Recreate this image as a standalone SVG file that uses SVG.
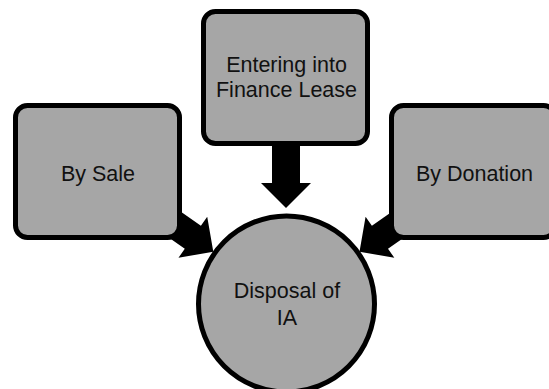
<svg xmlns="http://www.w3.org/2000/svg" width="549" height="389" viewBox="0 0 549 389">
  <defs>
    <style>
      .box { fill: #a6a6a6; stroke: #000; stroke-width: 5; }
      .lbl { font-family: "Liberation Sans", Arial, sans-serif; font-size: 21.5px; fill: #111; text-anchor: middle; }
      .arr { fill: #000; stroke: none; }
    </style>
  </defs>
  <rect width="549" height="389" fill="#fff"/>
  <g id="connectors">
    <polygon class="arr" transform="translate(286,208) rotate(90)" points="0,0 -25,-25 -25,-14 -68,-14 -68,14 -25,14 -25,25"/>
    <polygon class="arr" transform="translate(213.3,251.7) rotate(35.1)" points="0,0 -25,-25 -25,-14 -80,-14 -80,14 -25,14 -25,25"/>
    <polygon class="arr" transform="translate(359.5,251.7) rotate(144.9)" points="0,0 -25,-25 -25,-14 -80,-14 -80,14 -25,14 -25,25"/>
  </g>
  <g id="node-lease">
    <rect class="box" x="203.5" y="11.5" width="164" height="132" rx="12"/>
    <text class="lbl" x="286.5" y="72">Entering into</text>
    <text class="lbl" x="286.5" y="97">Finance Lease</text>
  </g>
  <g id="node-sale">
    <rect class="box" x="15.5" y="105.5" width="164" height="132" rx="12"/>
    <text class="lbl" x="98" y="181">By Sale</text>
  </g>
  <g id="node-donation">
    <rect class="box" x="391.5" y="105.5" width="164" height="132" rx="12"/>
    <text class="lbl" x="474.5" y="181">By Donation</text>
  </g>
  <g id="node-disposal">
    <circle class="box" cx="286.5" cy="304" r="88"/>
    <text class="lbl" x="287" y="298">Disposal of</text>
    <text class="lbl" x="287" y="325">IA</text>
  </g>
</svg>
